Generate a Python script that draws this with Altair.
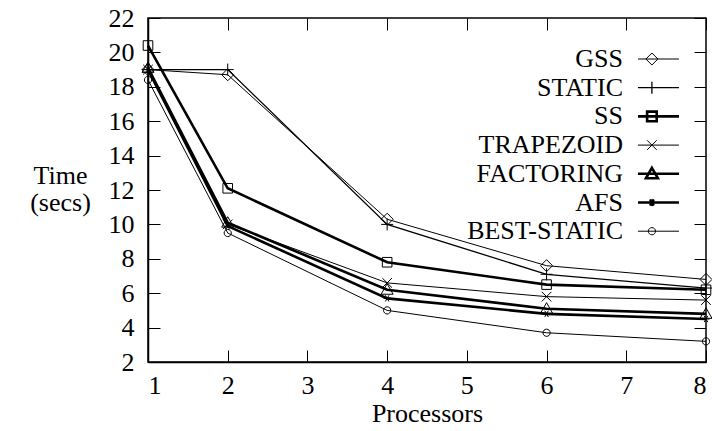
import altair as alt
import pandas as pd

processors = [1, 2, 4, 6, 8]
series_names = ["GSS", "STATIC", "SS", "TRAPEZOID", "FACTORING", "AFS", "BEST-STATIC"]
gss = [19.0, 18.7, 10.3, 7.6, 6.8]
static = [19.0, 19.0, 10.0, 7.1, 6.3]
ss = [20.4, 12.1, 7.8, 6.5, 6.2]
trapezoid = [19.0, 10.0, 6.6, 5.8, 5.6]
factoring = [19.1, 10.1, 6.2, 5.1, 4.8]
afs = [19.0, 9.9, 5.7, 4.8, 4.5]
best_static = [18.4, 9.5, 5.0, 3.7, 3.2]
y_ticks = list(range(2, 23, 2))
x_ticks = list(range(1, 9))

values = [gss, static, ss, trapezoid, factoring, afs, best_static]
rows = []
for name, vals in zip(series_names, values):
    for p, v in zip(processors, vals):
        rows.append({"series": name, "procs": p, "time": v})
df = pd.DataFrame(rows)

# line widths per series (style)
widths = [1.0, 1.3, 2.6, 1.0, 2.6, 2.6, 1.0]


def f(v):
    return f"{v:.3f}"


def diamond(s, c=0.0):
    return f"M{f(c-s)},0L{f(c)},{f(-s)}L{f(c+s)},0L{f(c)},{f(s)}Z"


def plus(s, c=0.0):
    return f"M{f(c-s)},0H{f(c+s)}M{f(c)},{f(-s)}V{f(s)}"


def square(s, c=0.0):
    return f"M{f(c-s)},{f(-s)}H{f(c+s)}V{f(s)}H{f(c-s)}Z"


def xmark(s, c=0.0):
    return f"M{f(c-s)},{f(-s)}L{f(c+s)},{f(s)}M{f(c-s)},{f(s)}L{f(c+s)},{f(-s)}"


def triangle(s, c=0.0):
    return f"M{f(c)},{f(-s)}L{f(c+s)},{f(0.75*s)}H{f(c-s)}Z"


def star(s, c=0.0):
    a = 0.5 * s
    b = 0.866 * s
    return (f"M{f(c-s)},0H{f(c+s)}M{f(c-a)},{f(-b)}L{f(c+a)},{f(b)}"
            f"M{f(c-a)},{f(b)}L{f(c+a)},{f(-b)}")


def circle(s, c=0.0):
    return (f"M{f(c-s)},0A{f(s)},{f(s)} 0 1,0 {f(c+s)},0"
            f"A{f(s)},{f(s)} 0 1,0 {f(c-s)},0Z")


makers = [diamond, plus, square, xmark, triangle, star, circle]
scales = [1.0, 1.0, 0.8, 0.8, 1.0, 0.6, 0.6]

plot_shapes = [m(s) for m, s in zip(makers, scales)]
k = 6.0 / 20.5
line_start = 0.73
line_end = 2.73
mc = 1.41
legend_shapes = [f"M{line_start},0H{line_end}" + m(s * k, mc) for m, s in zip(makers, scales)]

FONT = "Liberation Serif"
FS = 26

names_js = "[" + ",".join(f"'{n}'" for n in series_names) + "]"
widths_js = "[" + ",".join(str(w) for w in widths) + "]"
sw_expr = f"{widths_js}[indexof({names_js}, datum.series)]"
legend_sw_expr = f"{widths_js}[indexof({names_js}, datum.value)]"

x_enc = alt.X("procs:Q",
              scale=alt.Scale(domain=[1, 8], nice=False, zero=False),
              axis=alt.Axis(values=x_ticks, title="Processors", grid=True,
                            gridDash=[12, 320], gridColor="black", gridWidth=1,
                            gridOpacity=1, ticks=False, labelPadding=10,
                            titlePadding=2, format="d", labelOverlap=False))
y_enc = alt.Y("time:Q",
              scale=alt.Scale(domain=[2, 22], nice=False, zero=False),
              axis=alt.Axis(values=y_ticks, title=["Time", "(secs)"], grid=True,
                            gridDash=[12, 534], gridColor="black", gridWidth=1,
                            gridOpacity=1, ticks=False, labelPadding=14,
                            titleAngle=0, titleAlign="center", titleBaseline="middle",
                            titleX=-88, titleY=157, titleLineHeight=27,
                            format="d", labelOverlap=False))

base = alt.Chart(df)

lines = base.transform_calculate(lw=sw_expr).mark_line(color="black").encode(
    x=x_enc,
    y=y_enc,
    detail="series:N",
    strokeWidth=alt.StrokeWidth("lw:Q", scale=None),
)

points = base.mark_point(filled=False, color="black", size=144, strokeWidth=1, opacity=1).encode(
    x=x_enc,
    y=y_enc,
    shape=alt.Shape("series:N",
                    scale=alt.Scale(domain=series_names, range=plot_shapes),
                    legend=None),
)

legend = alt.Legend(title=None, orient="none", legendX=475, legendY=41,
                    labelAlign="right", labelOffset={"expr": "-90.5"},
                    labelFontSize=FS, labelFont=FONT, labelColor="black",
                    labelLimit=400, rowPadding=2.7, padding=0,
                    symbolSize=1681, symbolOffset=35.5, symbolStrokeColor="black",
                    symbolStrokeWidth={"expr": legend_sw_expr})

legend_layer = base.transform_filter("datum.procs < 0").mark_point(
    filled=False, color="black", opacity=1
).encode(
    x=x_enc,
    y=y_enc,
    shape=alt.Shape("series:N",
                    scale=alt.Scale(domain=series_names, range=legend_shapes),
                    legend=legend),
)

chart = alt.layer(lines, points, legend_layer).resolve_scale(
    shape="independent"
).properties(
    width=558, height=344,
    autosize=alt.AutoSizeParams(type="none"),
    padding={"left": 148, "top": 18, "right": 6, "bottom": 69},
    background="white",
).configure_view(
    stroke="black", strokeWidth=1.5
).configure_axis(
    labelFont=FONT, titleFont=FONT, labelFontSize=FS, titleFontSize=FS,
    labelColor="black", titleColor="black", titleFontWeight="normal",
    domainColor="black", domainWidth=1.5, labelOverlap=False,
)

chart.save("out.html", embed_options={"renderer": "svg", "actions": False})
